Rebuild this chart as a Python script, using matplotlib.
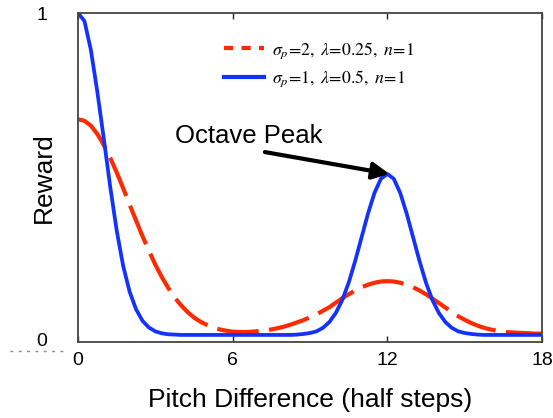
import matplotlib
matplotlib.use("Agg")
import matplotlib.pyplot as plt
from matplotlib.lines import Line2D

plt.rcParams['font.family'] = ['Liberation Sans', 'DejaVu Sans']
plt.rcParams['mathtext.fontset'] = 'stix'

# --- data ---
pitch = [0, 0.25, 0.5, 0.75, 1, 1.25, 1.5, 1.75, 2, 2.25, 2.5, 2.75, 3, 3.25, 3.5, 3.75,
         4, 4.25, 4.5, 4.75, 5, 5.25, 5.5, 5.75, 6, 6.25, 6.5, 6.75, 7, 7.25, 7.5, 7.75,
         8, 8.25, 8.5, 8.75, 9, 9.25, 9.5, 9.75, 10, 10.25, 10.5, 10.75, 11, 11.25,
         11.5, 11.75, 12, 12.25, 12.5, 12.75, 13, 13.25, 13.5, 13.75, 14, 14.25, 14.5,
         14.75, 15, 15.25, 15.5, 15.75, 16, 16.25, 16.5, 16.75, 17, 17.25, 17.5, 17.75, 18]
reward_sigma2 = [0.670, 0.665, 0.650, 0.624, 0.590, 0.550, 0.505, 0.456, 0.405, 0.356,
                 0.307, 0.262, 0.218, 0.180, 0.146, 0.116, 0.092, 0.071, 0.054, 0.041,
                 0.031, 0.023, 0.017, 0.013, 0.010, 0.009, 0.009, 0.010, 0.012, 0.014,
                 0.017, 0.021, 0.026, 0.032, 0.039, 0.046, 0.055, 0.064, 0.075, 0.086,
                 0.100, 0.114, 0.126, 0.138, 0.148, 0.156, 0.162, 0.166, 0.167, 0.166,
                 0.162, 0.156, 0.148, 0.138, 0.126, 0.113, 0.099, 0.085, 0.071, 0.058,
                 0.047, 0.037, 0.029, 0.022, 0.017, 0.013, 0.010, 0.008, 0.007, 0.006,
                 0.005, 0.004, 0.004]
reward_sigma1 = [1.000, 0.975, 0.885, 0.755, 0.610, 0.460, 0.325, 0.215, 0.135, 0.080,
                 0.044, 0.023, 0.011, 0.005, 0.002, 0.001, 0.0, 0.0, 0.0, 0.0,
                 0.0, 0.0, 0.0, 0.0, 0.0, 0.0, 0.0, 0.0, 0.0, 0.0,
                 0.0, 0.0, 0.0, 0.0, 0.001, 0.003, 0.006, 0.011, 0.022, 0.040,
                 0.068, 0.108, 0.162, 0.229, 0.303, 0.377, 0.441, 0.485, 0.500, 0.485,
                 0.441, 0.377, 0.303, 0.229, 0.162, 0.108, 0.068, 0.040, 0.022, 0.011,
                 0.006, 0.003, 0.001, 0.0, 0.0, 0.0, 0.0, 0.0, 0.0, 0.0,
                 0.0, 0.0, 0.0]
label_sigma2 = r'$\sigma_p\!=\!2,\;\lambda\!=\!0.25,\;n\!=\!1$'
label_sigma1 = r'$\sigma_p\!=\!1,\;\lambda\!=\!0.5,\;n\!=\!1$'
x_ticks = [0, 6, 12, 18]
y_tick_labels = ['0', '1']
annot_text = 'Octave Peak'
peak_x, peak_y = 12, 0.5

RED = '#ff2a00'
BLUE = '#1432ff'

W, H = 553, 418
fig = plt.figure(figsize=(W / 100, H / 100), dpi=100)
ax = fig.add_axes([78 / W, 1 - 342 / H, (542 - 78) / W, (342 - 13) / H])

ax.plot(pitch, reward_sigma2, color=RED, lw=3.0, dashes=(10, 2.5), solid_capstyle='butt')
ax.plot(pitch, reward_sigma1, color=BLUE, lw=2.7)

ax.set_xlim(0, 18)
ax.set_ylim(-0.022, 1.0)
ax.set_xticks(x_ticks)
ax.set_yticks([-0.013, 1.0])
ax.set_yticklabels(y_tick_labels)
ax.tick_params(axis='x', direction='in', length=4, width=1, top=True, pad=7,
               labelsize=14, colors='#222222', labelcolor='black')
ax.tick_params(axis='y', length=0, pad=22, labelsize=14)
for s in ax.spines.values():
    s.set_color('#444444')
    s.set_linewidth(1.3)

ax.set_xlabel('Pitch Difference (half steps)', fontsize=19, labelpad=14)
ax.set_ylabel('Reward', fontsize=19, va='center')
ax.yaxis.set_label_coords(-0.073, 0.5)

ax.annotate('', xy=(peak_x + 0.08, peak_y), xytext=(7.25, 0.568),
            arrowprops=dict(arrowstyle='-|>', lw=3, color='black', mutation_scale=25,
                            shrinkA=0, shrinkB=0))
ax.text(6.63, 0.618, annot_text, fontsize=18.5, ha='center', va='center')

h1 = Line2D([], [], color=RED, lw=3.0, dashes=(2.2, 2.0))
h2 = Line2D([], [], color=BLUE, lw=3.0)
leg = ax.legend([h1, h2], [label_sigma2, label_sigma1], frameon=False, fontsize=12.8,
                loc='upper left', bbox_to_anchor=(224 / W, 1 - 40 / H),
                bbox_transform=fig.transFigure, handlelength=2.25, handletextpad=0.45,
                labelspacing=0.45, borderpad=0, borderaxespad=0)

fig.add_artist(Line2D([10 / W, 68 / W], [1 - 351 / H, 1 - 351 / H], transform=fig.transFigure,
                      color='#888888', lw=1, linestyle=(0, (2, 4))))

fig.savefig('out.png', dpi=100)
